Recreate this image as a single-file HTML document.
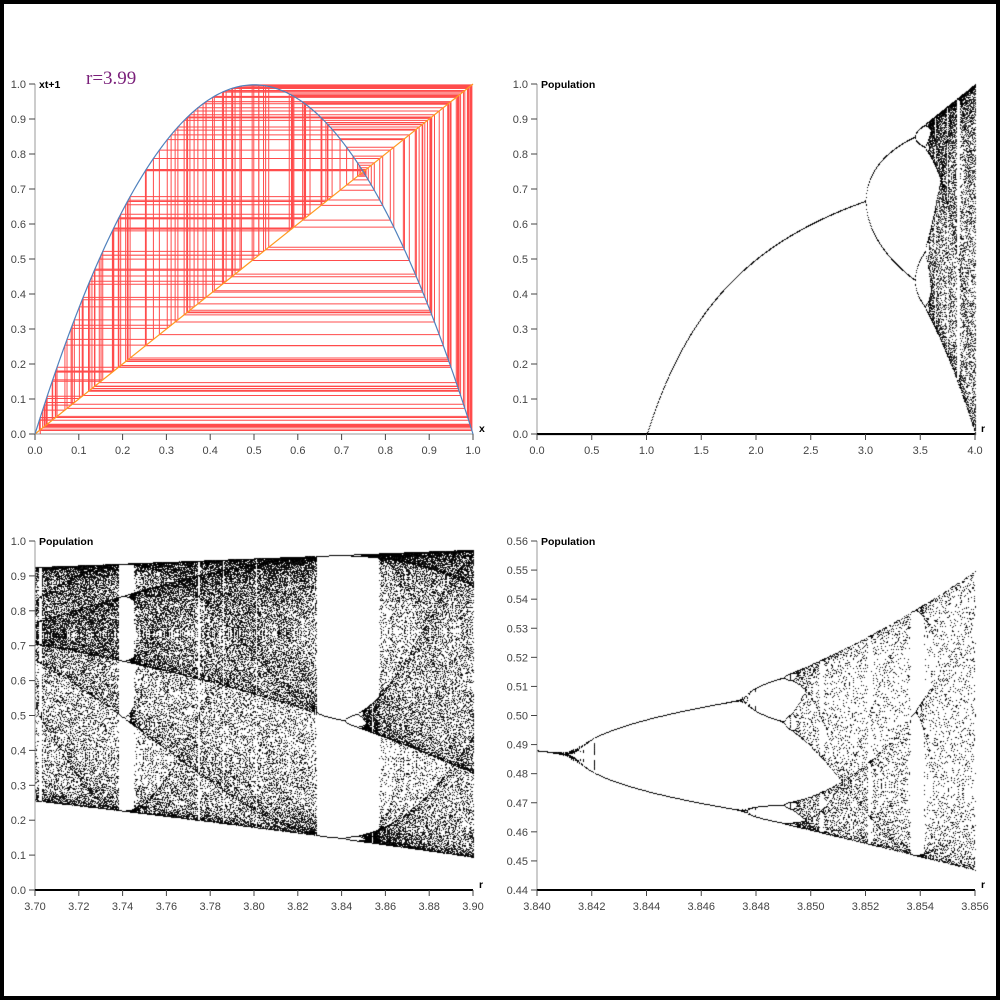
<!DOCTYPE html>
<html><head><meta charset="utf-8"><style>
html,body{margin:0;padding:0;background:#fff}
#wrap{position:relative;width:1000px;height:1000px;box-sizing:border-box;border:4px solid #000;overflow:hidden}
canvas,svg{position:absolute;left:-4px;top:-4px}
text{font-family:"Liberation Sans",sans-serif;font-size:11px;fill:#444}
.t{font-weight:bold;fill:#000;font-size:10.5px}
</style></head><body>
<div id="wrap">
<canvas id="cv" width="1000" height="1000"></canvas>
<svg id="sv" width="1000" height="1000"></svg>
</div>
<script>
// data
const cobwebR = 3.99;
const cobwebX0 = 0.012;
const cobwebIters = 160;
const p2Range = [0, 4];
const p3Range = [3.7, 3.9];
const p4Range = [3.84, 3.856];
const p4YRange = [0.44, 0.56];
const ticks1X = [0,0.1,0.2,0.3,0.4,0.5,0.6,0.7,0.8,0.9,1.0];
const ticksY01 = [0,0.1,0.2,0.3,0.4,0.5,0.6,0.7,0.8,0.9,1.0];
const ticks2X = [0,0.5,1,1.5,2,2.5,3,3.5,4];
const ticks3X = [3.70,3.72,3.74,3.76,3.78,3.80,3.82,3.84,3.86,3.88,3.90];
const ticks4X = [3.840,3.842,3.844,3.846,3.848,3.850,3.852,3.854,3.856];
const ticks4Y = [0.44,0.45,0.46,0.47,0.48,0.49,0.50,0.51,0.52,0.53,0.54,0.55,0.56];

const NS='http://www.w3.org/2000/svg';
const sv=document.getElementById('sv');
function el(tag,attrs,parent){const e=document.createElementNS(NS,tag);for(const k in attrs)e.setAttribute(k,attrs[k]);(parent||sv).appendChild(e);return e;}
function scale(d,r){return v=>r[0]+(v-d[0])/(d[1]-d[0])*(r[1]-r[0]);}

const panels=[
 {name:'cobweb',x0:35,x1:473,y0:434,y1:84,xd:[0,1],yd:[0,1],xt:ticks1X,yt:ticksY01,dx:1,dy:1,ytitle:'xt+1',xtitle:'x'},
 {name:'bifurcation-full',x0:537,x1:975,y0:434,y1:84,xd:p2Range,yd:[0,1],xt:ticks2X,yt:ticksY01,dx:1,dy:1,ytitle:'Population',xtitle:'r'},
 {name:'bifurcation-chaos',x0:35,x1:473,y0:890,y1:541,xd:p3Range,yd:[0,1],xt:ticks3X,yt:ticksY01,dx:2,dy:1,ytitle:'Population',xtitle:'r'},
 {name:'bifurcation-zoom',x0:537,x1:975,y0:890,y1:541,xd:p4Range,yd:p4YRange,xt:ticks4X,yt:ticks4Y,dx:3,dy:2,ytitle:'Population',xtitle:'r'}
];
panels.forEach(p=>{p.sx=scale(p.xd,[p.x0,p.x1]);p.sy=scale(p.yd,[p.y0,p.y1]);});

// points
const cv=document.getElementById('cv');const ctx=cv.getContext('2d');
const img=ctx.createImageData(1000,1000);const D=img.data;
for(let i=0;i<D.length;i+=4){D[i]=D[i+1]=D[i+2]=255;D[i+3]=255;}
function dot(x,y,a){x=Math.round(x);y=Math.round(y);if(x<0||y<0||x>=1000||y>=1000)return;const i=(y*1000+x)*4;const v=Math.max(0,D[i]-a);D[i]=D[i+1]=D[i+2]=v;}
function bif(p,sub,trans,n,a){
 const W=p.x1-p.x0;
 for(let c=0;c<=W*sub;c++){
  const r=p.xd[0]+(p.xd[1]-p.xd[0])*c/(W*sub);
  let x=0.4+0.2*((c*0.618)%1);
  for(let k=0;k<trans;k++)x=r*x*(1-x);
  for(let k=0;k<n;k++){x=r*x*(1-x);const y=p.sy(x);if(y>=p.y1-1&&y<=p.y0)dot(p.sx(r),y,a);}
 }
}
bif(panels[1],2,400,100,200);
bif(panels[2],1,500,170,230);
bif(panels[3],1,150,130,230);
ctx.putImageData(img,0,0);

// axes
panels.forEach(p=>{
 const g=el('g',{});
 const ya=el('line',{x1:p.x0,x2:p.x0,y1:p.y0,y2:p.y1,stroke:'#999','stroke-width':1});
 g.appendChild(ya);
 const xa=el('line',{x1:p.x0,x2:p.x1,y1:p.y0,y2:p.y0,stroke:p.name==='cobweb'?'#999':'#000','stroke-width':p.name==='cobweb'?1:2},g);
 
 p.yt.forEach(v=>{const y=p.sy(v);
  el('line',{x1:p.x0-6,x2:p.x0,y1:y,y2:y,stroke:'#444'},g);
  const t=el('text',{x:p.x0-9,y:y+4,'text-anchor':'end'},g);t.textContent=v.toFixed(p.dy);
  });
 p.xt.forEach(v=>{const x=p.sx(v);
  el('line',{x1:x,x2:x,y1:p.y0,y2:p.y0+6,stroke:'#444'},g);
  const t=el('text',{x:x,y:p.y0+20,'text-anchor':'middle'},g);t.textContent=v.toFixed(p.dx);
  });
 const yt=el('text',{x:p.x0+4,y:p.y1+4,class:'t'},g);yt.textContent=p.ytitle;
 
 const xt=el('text',{x:p.x1+6,y:p.y0-2,class:'t'},g);xt.textContent=p.xtitle;
 
});

// cobweb panel
const P=panels[0];
let d='';
for(let i=0;i<=200;i++){const x=i/200;d+=(i?'L':'M')+P.sx(x).toFixed(2)+','+P.sy(cobwebR*x*(1-x)).toFixed(2);}
const cw=el('g',{});
let x=cobwebX0,path='M'+P.sx(x)+','+P.sy(0);
for(let k=0;k<cobwebIters;k++){
 const fx=cobwebR*x*(1-x);
 path+='L'+P.sx(x).toFixed(2)+','+P.sy(fx).toFixed(2)+'L'+P.sx(fx).toFixed(2)+','+P.sy(fx).toFixed(2);
 x=fx;
}
el('path',{d:path,fill:'none',stroke:'#ff0000','stroke-width':1,'stroke-opacity':0.7},cw);
const diag=el('line',{x1:P.sx(0),y1:P.sy(0),x2:P.sx(1),y2:P.sy(1),stroke:'#ff9a1f','stroke-width':1.2});

const par=el('path',{d:d,fill:'none',stroke:'#4f81bd','stroke-width':1.2});

const rl=el('text',{x:86,y:84,style:'font-family:"Liberation Serif",serif;font-size:19px;fill:#7a1f7a'});
rl.textContent='r=3.99';

</script>
</body></html>
